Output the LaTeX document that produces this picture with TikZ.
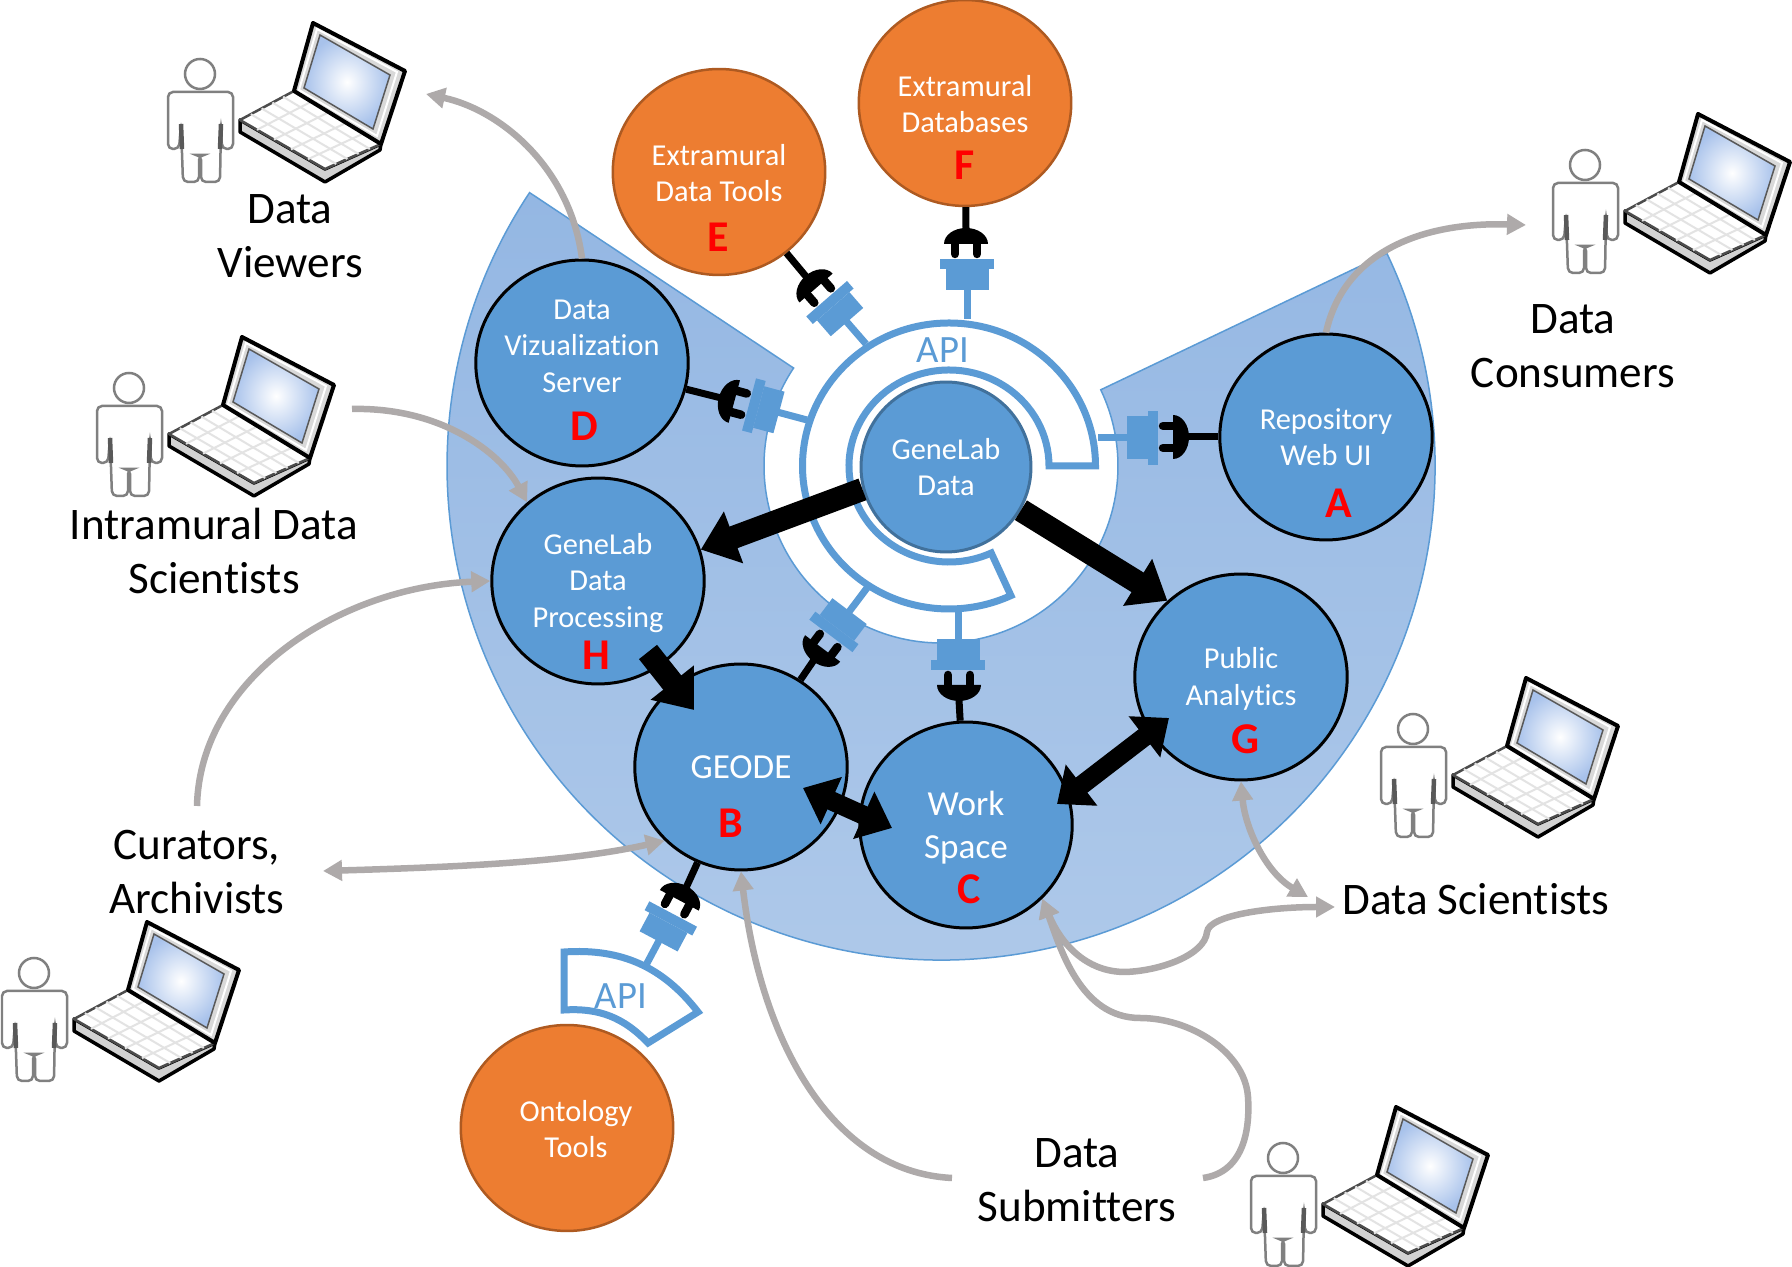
\documentclass[tikz,border=0pt]{standalone}
\usepackage{fontspec}
\setmainfont[Ligatures=NoCommon]{Carlito}
\definecolor{apiblue}{RGB}{91, 155, 213}
\definecolor{ringdark}{RGB}{65, 113, 156}
\definecolor{sectortop}{RGB}{148, 183, 227}
\definecolor{sectorlow}{RGB}{176, 202, 234}
\definecolor{extorange}{RGB}{237, 125, 49}
\definecolor{extedge}{RGB}{174, 90, 33}
\definecolor{linkgray}{RGB}{174, 170, 170}
\definecolor{screenblue}{RGB}{168, 194, 235}
\usetikzlibrary{arrows.meta, calc, shapes.geometric}
\tikzset{
  srvnode/.style={ellipse, draw=black, line width=0.06cm, fill=apiblue, minimum width=4.25cm, minimum height=4.12cm, inner sep=0pt},
  extnode/.style={ellipse, draw=extedge, line width=0.05cm, fill=extorange, minimum width=4.25cm, minimum height=4.12cm, inner sep=0pt},
  srvtext/.style={text=white, align=center, font=\fontsize{17.3}{20.7}\selectfont},
  bigtext/.style={text=white, align=center, font=\fontsize{20}{24.4}\selectfont},
  lettermark/.style={text=red, font=\fontsize{25}{30}\selectfont\bfseries},
  rolelabel/.style={text=black, align=center, font=\fontsize{25.7}{31}\selectfont},
  apilabel/.style={text=apiblue, font=\fontsize{22}{26}\selectfont},
  apiline/.style={draw=apiblue, line width=0.14cm, miter limit=10},
  plugcable/.style={draw=black, line width=0.14cm},
  fatarrow/.style={draw=black, line width=0.46cm, -{Triangle[length=0.7cm,width=1.06cm]}},
  fatboth/.style={draw=black, line width=0.38cm, {Triangle[length=0.62cm,width=1cm]}-{Triangle[length=0.62cm,width=1cm]}},
  linkarrow/.style={draw=linkgray, line width=0.13cm, -{Triangle[length=0.38cm,width=0.4cm]}},
  linkboth/.style={draw=linkgray, line width=0.13cm, {Triangle[length=0.38cm,width=0.4cm]}-{Triangle[length=0.38cm,width=0.4cm]}},
  plugconn/.pic={
    \fill[apiblue] (-3.5,0) rectangle (3.5,30);
    \fill[apiblue] (-21.5,29) rectangle (21.5,50);
    \fill[apiblue] (-27,50) rectangle (27,60);
    \draw[black, line width=0.17cm, line cap=round] (-12,65) -- (-12,78);
    \draw[black, line width=0.17cm, line cap=round] (10,65) -- (10,78);
    \fill[black] (-23,75) arc (180:0:22 and 16) -- cycle;
    \coordinate (-tip) at (-1,90);
  },
  useratlaptop/.pic={
    % person
    \draw[gray, line width=0.05cm, fill=white, rounded corners=0.1cm] (0,-92) -- (0,-35) -- (65,-35) -- (65,-92) -- (54,-92) -- (53,-67) -- (52,-125) -- (33,-125) -- (33,-98) -- (31,-98) -- (31,-125) -- (15,-125) -- (13,-67) -- (11,-92) -- cycle;
    \draw[gray, line width=0.05cm, fill=white] (32,-17) circle (15);
    \draw[gray!70!black, line width=0.09cm] (13,-67) -- (14,-92);
    \draw[gray!70!black, line width=0.09cm] (53,-67) -- (52,-92);
    % laptop base
    \fill[gray!35, draw=black, line width=0.07cm, line join=round] (72,-63) -- (72,-75) -- (157,-125) -- (212,-93) -- (213,-87) -- (157,-112) -- cycle;
    \fill[white, draw=black!70, line width=0.05cm, line join=round] (126,-34) -- (72,-63) -- (157,-112) -- (213,-87) -- cycle;
    \foreach \k in {0.2,0.4,0.6,0.8} {
      \draw[gray!22, line width=0.04cm] ($(126,-34)!\k!(72,-63)$) -- ($(213,-87)!\k!(157,-112)$);
      \draw[gray!22, line width=0.04cm] ($(126,-34)!\k!(213,-87)$) -- ($(72,-63)!\k!(157,-112)$);
    }
    % laptop screen
    \fill[gray!30, draw=black, line width=0.08cm, line join=round] (145,34) -- (237,-14) -- (213,-87) -- (126,-34) -- cycle;
    \draw[white, line width=0.04cm] (149,28) -- (229,-15) -- (209,-79) -- (131,-33) -- cycle;
    \shade[inner color=white, outer color=screenblue, draw=gray!70!black, line width=0.03cm] (152,22) -- (222,-18) -- (205,-72) -- (136,-31) -- cycle;
  }
}

\begin{document}
\begin{tikzpicture}[x=0.02cm, y=0.02cm]
  \useasboundingbox (0,0) rectangle (1792,1267);
  \fill[white] (0,0) rectangle (1792,1267);

  % Sector behind the servers
  \coordinate (hub) at (941,801);
  \shade[top color=sectortop, bottom color=sectorlow] (hub) ++(25.5:494) arc (25.5:-213.6:494) -- ($(hub)+(146.4:177)$) arc (146.4:385.5:177) -- cycle;
  \draw[apiblue, line width=0.03cm] (hub) ++(25.5:494) arc (25.5:-213.6:494) -- ($(hub)+(146.4:177)$) arc (146.4:385.5:177) -- cycle;

  % API ring
  \coordinate (apihub) at (949,801);
  \draw[apiline] (apihub) ++(0:146.5) arc (0:295:146.5 and 143) -- ($(apihub)+(295:100 and 96)$) arc (295:0:100 and 96) -- cycle;
  \node[apilabel] (apitop) at (943,917) {API};

  % API of the ontology tools
  \coordinate (ontoa) at (564,315);
  \coordinate (ontob) at (698,255);
  \coordinate (ontoc) at (648,224);
  \coordinate (ontod) at (564,257);
  \draw[apiline] (ontoa) to[bend left=28] (ontob) -- (ontoc) to[bend right=25] (ontod) -- cycle;
  \node[apilabel] (apionto) at (621,271) {API};

  % Servers
  \node[srvnode] (repo) at (1326,830) {};
  \node[srvnode] (pub) at (1241,590) {};
  \node[srvnode] (work) at (966,442) {};
  \node[srvnode] (geode) at (741,500) {};
  \node[srvnode] (proc) at (598,686) {};
  \node[srvnode] (viz) at (582,904) {};
  \node[circle, draw=ringdark, line width=0.06cm, fill=apiblue, minimum size=3.4cm, inner sep=0pt] (data) at (946,800) {};

  % External resources
  \node[extnode] (tools) at (719,1095) {};
  \node[extnode] (dbs) at (965,1164) {};
  \node[extnode] (onto) at (567,139) {};

  % Plugs
  \pic[rotate=0] (plugF) at (967,948) {plugconn};
  \pic[rotate=41] (plugE) at (866,923) {plugconn};
  \pic[rotate=75] (plugD) at (807,847) {plugconn};
  \pic[rotate=-90] (plugA) at (1098,829) {plugconn};
  \pic[rotate=180] (plugC) at (958,657) {plugconn};
  \pic[rotate=143] (plugB) at (867,679) {plugconn};
  \pic[rotate=-28] (plugO) at (645,300) {plugconn};
  \draw[plugcable] (plugF-tip) -- (dbs);
  \draw[plugcable] (plugE-tip) -- (tools);
  \draw[plugcable] (plugD-tip) -- (viz);
  \draw[plugcable] (plugA-tip) -- (repo);
  \draw[plugcable] (plugC-tip) -- (work);
  \draw[plugcable] (plugB-tip) -- (geode);
  \draw[plugcable] (plugO-tip) -- (geode);

  % Thick data flows
  \draw[fatarrow] (data.195) -- (proc.17);
  \draw[fatarrow] (data.-30) -- (pub.134);
  \draw[fatarrow] ($(proc)+(50,-71)$) -- ($(geode)+(-47,57)$);
  \draw[fatboth] ($(geode)+(62,-21)$) -- ($(work)+(-74,-3)$);
  \draw[fatboth] ($(work)+(91,21)$) -- ($(pub)+(-72,-41)$);

  % Server texts
  \node[srvtext] (repotxt) at (1326,830) {Repository\\Web UI};
  \node[srvtext] (pubtxt) at (1241,588) {Public\\Analytics};
  \node[bigtext] (worktxt) at (966,439) {Work\\Space};
  \node[bigtext] (geodetxt) at (741,500) {GEODE};
  \node[srvtext] (proctxt) at (598,684) {GeneLab\\Data\\Processing};
  \node[srvtext] (viztxt) at (582,921) {Data\\Vizualization\\Server};
  \node[srvtext] (datatxt) at (946,800) {GeneLab\\Data};
  \node[srvtext] (toolstxt) at (719,1094) {Extramural\\Data Tools};
  \node[srvtext] (dbstxt) at (965,1163) {Extramural\\Databases};
  \node[srvtext] (ontotxt) at (576,138) {Ontology\\Tools};

  % Letters
  \node[lettermark] (markA) at (1339,764) {A};
  \node[lettermark] (markB) at (731,444) {B};
  \node[lettermark] (markC) at (969,378) {C};
  \node[lettermark] (markD) at (584,841) {D};
  \node[lettermark] (markE) at (718,1030) {E};
  \node[lettermark] (markF) at (965,1102) {F};
  \node[lettermark] (markG) at (1245,528) {G};
  \node[lettermark] (markH) at (596,612) {H};

  % Users
  \pic (userview) at (168,1210) {useratlaptop};
  \pic (usercons) at (1553,1119) {useratlaptop};
  \pic (userintra) at (97,896) {useratlaptop};
  \pic (usersci) at (1381,555) {useratlaptop};
  \pic (usercur) at (2,311) {useratlaptop};
  \pic (usersub) at (1251,126) {useratlaptop};

  % Role labels
  \node[rolelabel] (viewers) at (290,1031) {Data\\Viewers};
  \node[rolelabel] (consumers) at (1573,921) {Data\\Consumers};
  \node[rolelabel] (intra) at (214,716) {Intramural Data\\Scientists};
  \node[rolelabel] (curators) at (197,395) {Curators,\\Archivists};
  \node[rolelabel] (scientists) at (1476,368) {Data Scientists};
  \node[rolelabel] (submitters) at (1077,87) {Data\\Submitters};

  % Free ends of the gray links
  \coordinate (viewend) at (426,1173);
  \coordinate (consend) at (1526,1042);
  \coordinate (intraend) at (352,858);
  \coordinate (curup) at (197,461);
  \coordinate (curright) at (323,396);
  \coordinate (sciend) at (1308,370);
  \coordinate (sciwork) at (1335,360);
  \coordinate (subleft) at (952,89);
  \coordinate (subright) at (1203,89);

  % Gray links
  \draw[linkarrow] (viz.north) .. controls (570,1100) and (500,1157) .. (viewend);
  \draw[linkarrow] (repo.north) .. controls (1345,1020) and (1430,1045) .. (consend);
  \draw[linkarrow] (intraend) .. controls (440,860) and (500,815) .. (proc.132);
  \draw[linkarrow] (curup) .. controls (200,590) and (340,680) .. (proc.west);
  \draw[linkboth] (curright) .. controls (460,400) and (570,405) .. (geode.224);
  \draw[linkboth] (pub.south) .. controls (1245,440) and (1265,395) .. (sciend);
  \draw[linkboth] (work.-44) .. controls (1060,325) and (1085,295) .. (1125,295) .. controls (1160,296) and (1205,312) .. (1207,335) .. controls (1209,352) and (1270,360) .. (sciwork);
  \draw[linkarrow] (subright) .. controls (1245,95) and (1250,140) .. (1248,170) .. controls (1245,215) and (1190,249) .. (1140,249) .. controls (1080,249) and (1060,320) .. (work.-44);
  \draw[linkarrow] (subleft) .. controls (830,95) and (760,230) .. (geode.south);
\end{tikzpicture}
\end{document}
